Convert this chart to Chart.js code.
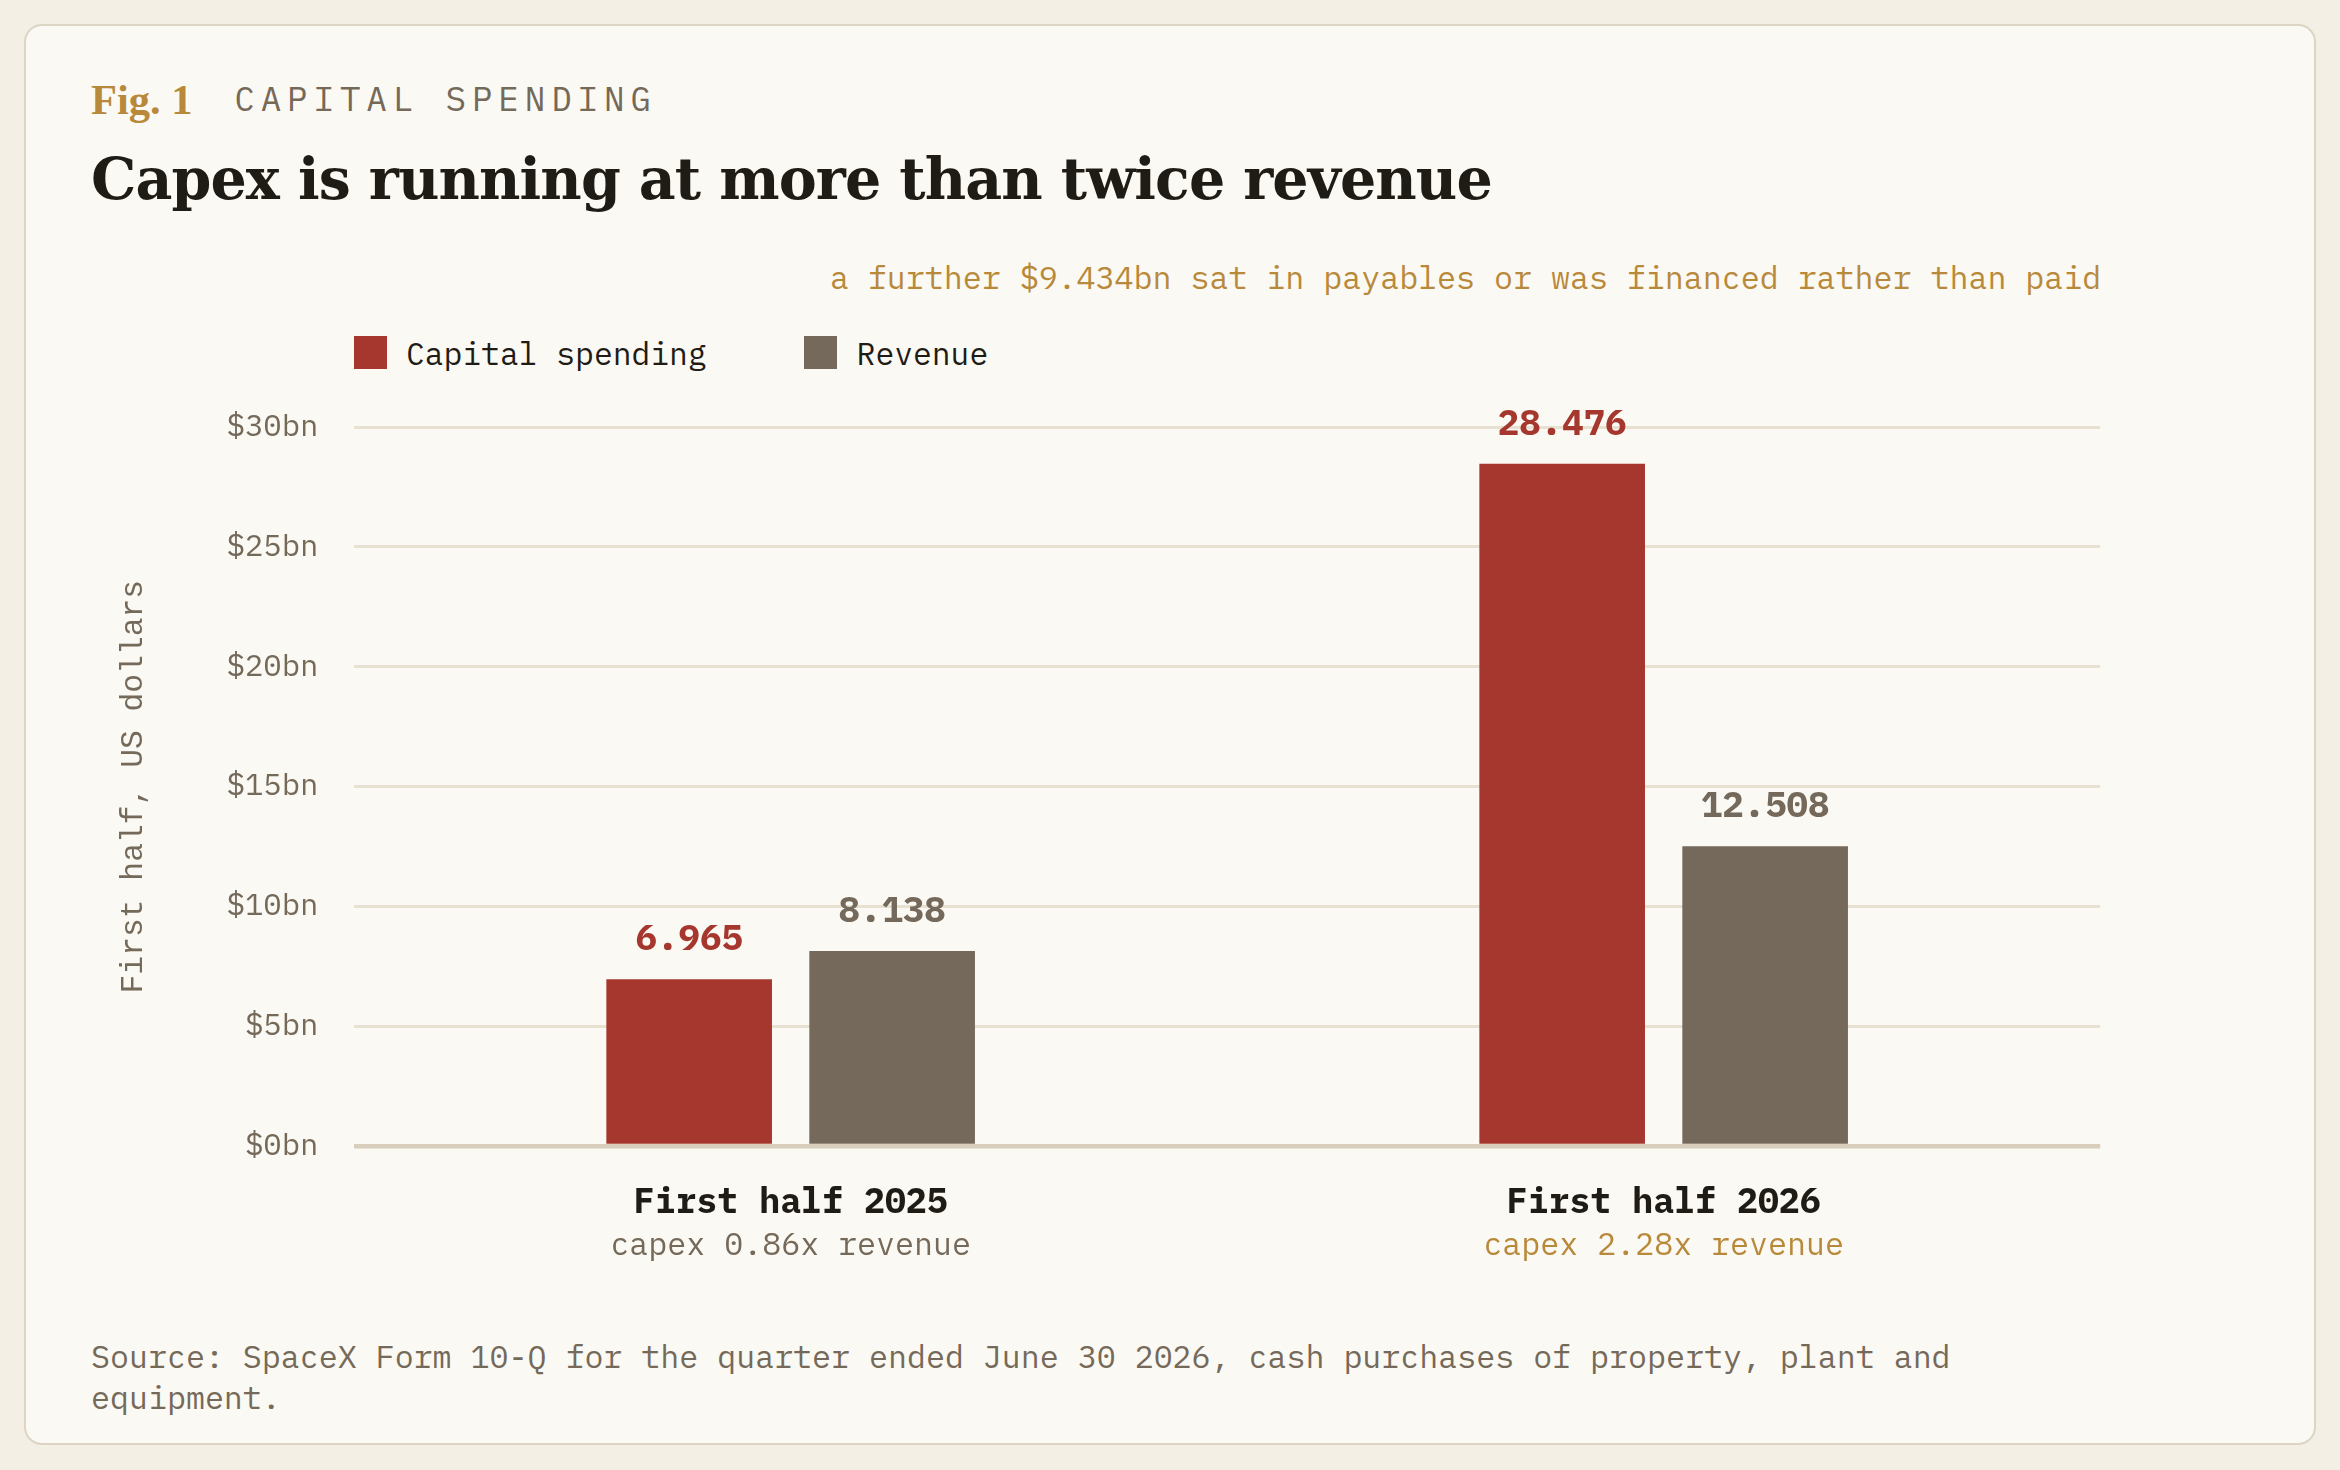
<!DOCTYPE html>
<html><head><meta charset="utf-8">
<script src="https://cdn.jsdelivr.net/npm/chart.js@4.4.1/dist/chart.umd.min.js"></script>
<style>
html,body{margin:0;padding:0;background:#f4efe4;overflow:hidden;}
#card{position:absolute;box-sizing:border-box;background:#fbf9f3;border-style:solid;border-color:#ddd5c4;}
.t{position:absolute;white-space:nowrap;line-height:1;}
#wrap{position:absolute;}
</style></head><body>
<div id="card"></div>
<div id="fig" class="t">Fig. 1</div>
<div id="kicker" class="t">CAPITAL SPENDING</div>
<div id="title" class="t">Capex is running at more than twice revenue</div>
<div id="note" class="t">a further $9.434bn sat in payables or was financed rather than paid</div>
<div id="legend"></div>
<div id="wrap"><canvas id="c"></canvas></div>
<div id="source" class="t">Source: SpaceX Form 10-Q for the quarter ended June 30 2026, cash purchases of property, plant and equipment.</div>
<script>
// ---- data ----
const categories = ["First half 2025", "First half 2026"];
const capexValues = [6.965, 28.476];
const revenueValues = [8.138, 12.508];
const seriesNames = ["Capital spending", "Revenue"];
const yTickStep = 5;
const yMin = 0;
const yMax = 30;

// ---- style ----
const S = window.innerWidth / 1568;
const p = v => v * S;
const MONO = '"IBM Plex Mono", "Liberation Mono", "DejaVu Sans Mono", monospace';
const SERIF = '"DejaVu Serif", "Liberation Serif", serif';
const RED = '#a6372e', GREY = '#74695a', GOLD = '#b8893a', DARK = '#1f1b15', MUTED = '#75695a';
const GRID = '#e8e1d2', ZERO = '#d8cebb';
const seriesColors = [RED, GREY];

function place(id, css) {
  const el = document.getElementById(id);
  Object.assign(el.style, css);
  return el;
}
place('card', {left: p(16)+'px', top: p(16)+'px', width: p(1536)+'px', height: p(952)+'px',
  borderWidth: p(2)+'px', borderRadius: p(12)+'px'});
place('fig', {left: p(61)+'px', top: p(50)+'px', font: `700 ${p(28.5)}px "Liberation Serif", serif`, color: GOLD});
place('kicker', {left: p(157)+'px', top: p(51)+'px', font: `400 ${p(23)}px ${MONO}`, color: MUTED, letterSpacing: p(3.9)+'px'});
place('title', {left: p(61)+'px', top: p(97)+'px', font: `700 ${p(38.2)}px ${SERIF}`, color: DARK, letterSpacing: (-p(0.6))+'px'});
place('note', {right: (window.innerWidth - p(1408))+'px', top: p(172)+'px', font: `400 ${p(21.2)}px ${MONO}`, color: GOLD});
place('source', {left: p(61)+'px', top: p(895)+'px', width: p(1347)+'px', whiteSpace: 'normal',
  font: `400 ${p(21.2)}px ${MONO}`, color: MUTED});
document.getElementById('source').style.lineHeight = p(28)+'px';

// legend
const legend = document.getElementById('legend');
const legendX = [237, 539];
seriesNames.forEach((n, i) => {
  const sq = document.createElement('div');
  Object.assign(sq.style, {position:'absolute', left: p(legendX[i])+'px', top: p(225)+'px', width: p(22)+'px', height: p(22)+'px', background: seriesColors[i]});
  legend.appendChild(sq);
  const tx = document.createElement('div');
  tx.className = 't';
  tx.textContent = n;
  Object.assign(tx.style, {left: p(legendX[i] + 35)+'px', top: p(223)+'px', font: `400 ${p(21)}px ${MONO}`, color: DARK});
  legend.appendChild(tx);
});

// chart container
const CX = 60, CY = 250, CW = 1420, CH = 620;
place('wrap', {left: p(CX)+'px', top: p(CY)+'px', width: p(CW)+'px', height: p(CH)+'px'});

const labelPlugin = {
  id: 'valueLabels',
  afterDatasetsDraw(chart) {
    const ctx = chart.ctx;
    chart.data.datasets.forEach((ds, i) => {
      const meta = chart.getDatasetMeta(i);
      meta.data.forEach((bar, j) => {
        ctx.save();
        ctx.font = `700 ${p(24)}px ${MONO}`;
        ctx.fillStyle = ds.backgroundColor;
        ctx.textAlign = 'center';
        ctx.textBaseline = 'alphabetic';
        ctx.fillText(ds.data[j].toFixed(3), bar.x, bar.y - p(19.5));
        ctx.restore();
      });
    });
    const xs = chart.scales.x;
    const bottom = chart.chartArea.bottom;
    categories.forEach((c, j) => {
      const x = xs.getPixelForValue(j);
      const ratio = capexValues[j] / revenueValues[j];
      ctx.save();
      ctx.textAlign = 'center';
      ctx.textBaseline = 'alphabetic';
      ctx.font = `700 ${p(23.4)}px ${MONO}`;
      ctx.fillStyle = DARK;
      ctx.fillText(c, x, bottom + p(45));
      ctx.font = `400 ${p(21.2)}px ${MONO}`;
      ctx.fillStyle = ratio > 2 ? GOLD : MUTED;
      ctx.fillText('capex ' + ratio.toFixed(2) + 'x revenue', x, bottom + p(73));
      ctx.restore();
    });
  }
};

new Chart(document.getElementById('c'), {
  type: 'bar',
  data: {
    labels: categories,
    datasets: [
      {label: seriesNames[0], data: capexValues, backgroundColor: RED, categoryPercentage: 0.465, barPercentage: 0.816},
      {label: seriesNames[1], data: revenueValues, backgroundColor: GREY, categoryPercentage: 0.465, barPercentage: 0.816}
    ]
  },
  options: {
    responsive: true,
    maintainAspectRatio: false,
    animation: false,
    layout: {padding: {top: p(35), right: p(73), left: 0, bottom: 0}},
    plugins: {legend: {display: false}, tooltip: {enabled: false}},
    scales: {
      x: {
        afterFit(s) { s.height = p(102); },
        ticks: {display: false},
        grid: {display: false},
        border: {display: false}
      },
      y: {
        min: yMin, max: yMax,
        afterFit(s) { s.width = p(177); },
        ticks: {stepSize: yTickStep, padding: p(24), color: MUTED, font: {family: MONO, size: p(20.5)},
          callback: v => '$' + v + 'bn'},
        grid: {drawTicks: false,
          color: c => (c.tick && c.tick.value === 0) ? ZERO : GRID,
          lineWidth: c => (c.tick && c.tick.value === 0) ? p(3) : p(2)},
        border: {display: false},
        title: {display: true, text: 'First half, US dollars', color: MUTED,
          font: {family: '"Liberation Mono", monospace', size: p(21)}, padding: {top: p(17), bottom: 0}}
      }
    }
  },
  plugins: [labelPlugin]
});
</script>
</body></html>
